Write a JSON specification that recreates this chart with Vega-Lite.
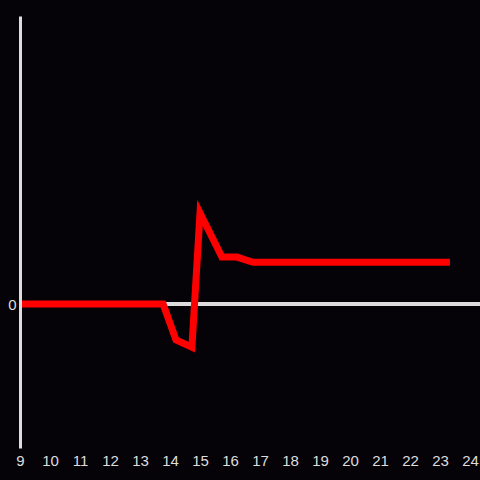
{
  "$schema": "https://vega.github.io/schema/vega-lite/v6.json",
  "width": 460,
  "height": 432,
  "autosize": {"type": "none"},
  "padding": {"left": 20, "top": 16, "right": 0, "bottom": 32},
  "background": "#050308",
  "config": {"view": {"stroke": null}, "font": "Liberation Sans"},
  "data": {"values": [
    {"x": 9, "y": 0},
    {"x": 13.77, "y": 0},
    {"x": 14.2, "y": -0.25},
    {"x": 14.73, "y": -0.3},
    {"x": 15.0, "y": 0.632},
    {"x": 15.73, "y": 0.326},
    {"x": 16.23, "y": 0.326},
    {"x": 16.77, "y": 0.29},
    {"x": 23.33, "y": 0.29}
  ]},
  "layer": [
    {
      "mark": {"type": "rule", "stroke": "#dddddd", "strokeWidth": 3},
      "encoding": {"y": {"datum": 0, "type": "quantitative", "scale": {"domain": [-1, 2]}}}
    },
    {
      "mark": {"type": "line", "color": "#ff0000", "strokeWidth": 7, "strokeCap": "butt", "strokeJoin": "miter"},
      "encoding": {
        "x": {"field": "x", "type": "quantitative", "scale": {"domain": [9, 24.333], "nice": false, "zero": false},
          "axis": {"values": [9,10,11,12,13,14,15,16,17,18,19,20,21,22,23,24], "format": "d", "domain": false, "ticks": false, "grid": false, "title": null, "labelColor": "#dddddd", "labelFontSize": 15, "labelPadding": 5, "labelFlush": false}},
        "y": {"field": "y", "type": "quantitative", "scale": {"domain": [-1, 2], "nice": false},
          "axis": {"values": [0], "format": "d", "domain": true, "domainColor": "#dddddd", "domainWidth": 3, "ticks": false, "grid": false, "title": null, "labelColor": "#dddddd", "labelFontSize": 15, "labelPadding": 4, "zindex": 1}}
      }
    }
  ]
}
